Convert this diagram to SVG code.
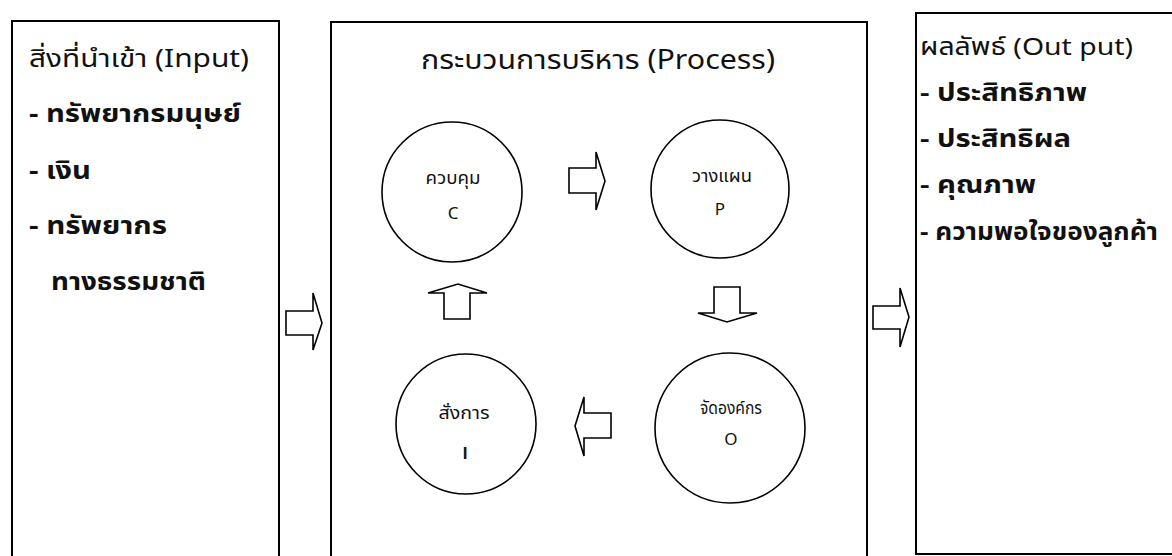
<svg xmlns="http://www.w3.org/2000/svg" width="1172" height="556" viewBox="0 0 1172 556">
<style>
text { font-family: "Noto Sans Thai", "Noto Sans", "DejaVu Sans", sans-serif; fill: #111; }
.box { fill: #fff; stroke: #000; stroke-width: 2; }
.circ { fill: #fff; stroke: #000; stroke-width: 1.6; }
.arr { fill: #fff; stroke: #000; stroke-width: 1.6; stroke-linejoin: miter; }
.h { font-size: 25px; }
.b { font-size: 25px; font-weight: bold; }
.rh { font-size: 24px; }
.rb { font-size: 24px; font-weight: bold; }
.t { font-size: 27px; }
.c { font-size: 17px; text-anchor: middle; }
.bar { font-family: "Liberation Sans", Arial, sans-serif; font-weight: bold; }
</style>
<rect x="0" y="0" width="1172" height="556" fill="#fff"/>

<g id="input">
<rect class="box" x="12" y="21" width="267" height="545"/>
<text class="h" x="29" y="67" textLength="220" lengthAdjust="spacingAndGlyphs">สิ่งที่นำเข้า (Input)</text>
<text class="b" x="29" y="122" textLength="212" lengthAdjust="spacingAndGlyphs">- ทรัพยากรมนุษย์</text>
<text class="b" x="29" y="179" textLength="62" lengthAdjust="spacingAndGlyphs">- เงิน</text>
<text class="b" x="29" y="234" textLength="138" lengthAdjust="spacingAndGlyphs">- ทรัพยากร</text>
<text class="b" x="51" y="290" textLength="155" lengthAdjust="spacingAndGlyphs">ทางธรรมชาติ</text>
</g>

<g id="process">
<rect class="box" x="331" y="22" width="536" height="545"/>
<text class="t" x="421" y="69" textLength="354" lengthAdjust="spacingAndGlyphs">กระบวนการบริหาร (Process)</text>
</g>

<g id="output">
<rect class="box" x="916" y="13" width="270" height="541"/>
<text class="rh" x="920" y="55" textLength="213" lengthAdjust="spacingAndGlyphs">ผลลัพธ์ (Out put)</text>
<text class="rb" x="920" y="101" textLength="167" lengthAdjust="spacingAndGlyphs">- ประสิทธิภาพ</text>
<text class="rb" x="920" y="147" textLength="151" lengthAdjust="spacingAndGlyphs">- ประสิทธิผล</text>
<text class="rb" x="920" y="193" textLength="116" lengthAdjust="spacingAndGlyphs">- คุณภาพ</text>
<text class="rb" x="920" y="240" textLength="238" lengthAdjust="spacingAndGlyphs">- ความพอใจของลูกค้า</text>
</g>

<g id="control">
<circle class="circ" cx="452" cy="192" r="70"/>
<text class="c" x="453" y="184" textLength="55" lengthAdjust="spacingAndGlyphs">ควบคุม</text>
<text class="c" x="453" y="219">C</text>
</g>

<g id="plan">
<circle class="circ" cx="720" cy="189" r="69"/>
<text class="c" x="722" y="182" textLength="60" lengthAdjust="spacingAndGlyphs">วางแผน</text>
<text class="c" x="720" y="215">P</text>
</g>

<g id="organize">
<circle class="circ" cx="730" cy="428" r="75"/>
<text class="c" x="731" y="414" textLength="62" lengthAdjust="spacingAndGlyphs">จัดองค์กร</text>
<text class="c" x="731" y="445">O</text>
</g>

<g id="direct">
<circle class="circ" cx="466" cy="424" r="70"/>
<text class="c" x="464" y="419" textLength="51" lengthAdjust="spacingAndGlyphs">สั่งการ</text>
<text class="c bar" x="465" y="459">I</text>
</g>

<g id="connectors">
<polygon class="arr" points="286,311 313,311 313,293 322,323 313,350 313,335 286,335"/>
<polygon class="arr" points="873,306 900,306 900,288 909,317 900,347 900,329 873,329"/>
<polygon class="arr" points="569,168 596,168 596,152 605,181 596,210 596,193 569,193"/>
<polygon class="arr" points="714,287 740,287 740,313 757,313 727,322 698,313 714,313"/>
<polygon class="arr" points="611,413 584,413 584,397 575,426 584,456 584,438 611,438"/>
<polygon class="arr" points="444,319 444,293 428,293 458,284 487,293 470,293 470,319"/>
</g>
</svg>
